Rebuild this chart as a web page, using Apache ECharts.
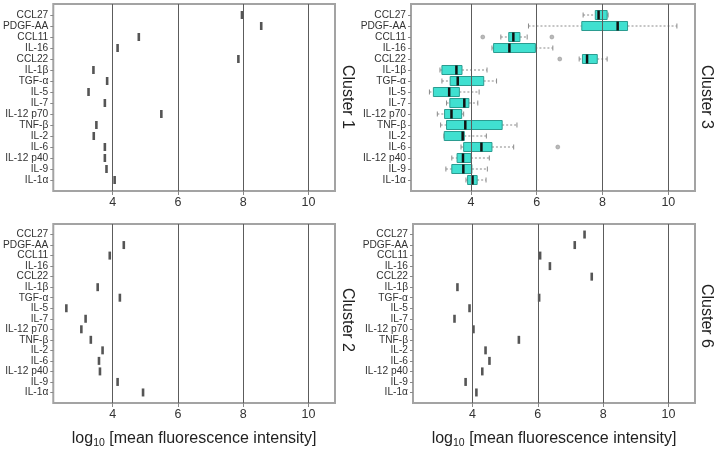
<!DOCTYPE html>
<html><head><meta charset="utf-8">
<script src="https://cdn.jsdelivr.net/npm/echarts@6/dist/echarts.min.js"></script>
<style>html,body{margin:0;padding:0;background:#fff}#c{width:715px;height:450px}</style>
</head><body><div id="c"></div>
<script>
const categories = ['CCL27','PDGF-AA','CCL11','IL-16','CCL22','IL-1β','TGF-α','IL-5','IL-7','IL-12 p70','TNF-β','IL-2','IL-6','IL-12 p40','IL-9','IL-1α'];
const xTicks = [4, 6, 8, 10];
const cluster1 = [7.96,8.55,4.80,4.15,7.85,3.41,3.83,3.26,3.76,5.49,3.50,3.42,3.76,3.76,3.81,4.06];
const cluster2 = [null,4.34,3.91,null,null,3.54,4.22,2.58,3.17,3.04,3.33,3.69,3.58,3.61,4.15,4.93];
const cluster6 = [7.43,7.13,6.07,6.37,7.65,3.54,6.04,3.91,3.45,4.03,5.42,4.40,4.52,4.30,3.79,4.12];
const c3Min = [7.41,5.75,4.91,4.64,7.29,3.06,3.12,2.74,3.26,2.98,3.08,3.18,3.70,3.42,3.24,3.85];
const c3Q1  = [7.78,7.37,5.15,4.69,7.39,3.12,3.37,2.86,3.36,3.20,3.26,3.19,3.78,3.58,3.42,3.90];
const c3Med = [7.88,8.46,5.29,5.17,7.53,3.56,3.60,3.34,3.80,3.41,3.83,3.75,4.32,3.76,3.77,4.05];
const c3Q3  = [8.14,8.76,5.49,5.96,7.84,3.73,4.39,3.65,3.94,3.72,4.95,3.80,4.64,4.00,4.03,4.19];
const c3Max = [8.17,10.26,5.71,6.49,8.14,4.49,4.78,4.25,4.21,3.78,5.40,4.47,5.30,4.56,4.50,4.46];
const c3Outliers = [['CCL11',4.36],['CCL11',6.46],['CCL22',6.70],['IL-6',6.64]];
const clusterNames = ['Cluster 1', 'Cluster 3', 'Cluster 2', 'Cluster 6'];
const xAxisTitle = ['log', '10', ' [mean fluorescence intensity]'];

const FONT = '"Liberation Sans", Arial, Helvetica, sans-serif';
const yData = [''].concat(categories, ['']);
const grids = [
  {left: 51, top: 4, width: 284, height: 187},
  {left: 411, top: 4, width: 284, height: 187},
  {left: 51, top: 224, width: 284, height: 188},
  {left: 413, top: 224, width: 282, height: 188}
];
const labelPos = [[347, 97], [706, 97], [347, 320], [706, 316]];

const xAxes = grids.map((g, i) => ({
  type: 'value', gridIndex: i, min: 2.18, max: 10.81,
  axisLine: {show: false}, splitLine: {show: false},
  axisTick: {show: true, customValues: xTicks, length: 4, lineStyle: {color: '#888'}},
  axisLabel: {customValues: xTicks, fontSize: 12.5, color: '#333', fontFamily: FONT, margin: 5},
  name: i >= 2 ? ('{a|' + xAxisTitle[0] + '}{s|' + xAxisTitle[1] + '}{a|' + xAxisTitle[2] + '}') : '',
  nameLocation: 'middle', nameGap: 26,
  nameTextStyle: {
    fontFamily: FONT,
    rich: {
      a: {fontSize: 16, color: '#222', fontFamily: FONT, lineHeight: 20},
      s: {fontSize: 10.5, color: '#222', fontFamily: FONT, verticalAlign: 'bottom', lineHeight: 11}
    }
  }
}));
const yAxes = grids.map((g, i) => ({
  type: 'category', gridIndex: i, data: yData, inverse: true, boundaryGap: false,
  axisLine: {show: false}, splitLine: {show: false},
  axisTick: {show: true, length: 3, interval: (idx, v) => v !== '', lineStyle: {color: '#888'}},
  axisLabel: {interval: 0, fontSize: 10.2, color: '#333', fontFamily: FONT, margin: 5}
}));

function pairs(vals) {
  return vals.map((v, k) => [v, categories[k]]).filter(d => d[0] != null);
}
function lineSeries(i) {
  return {
    type: 'scatter', xAxisIndex: i, yAxisIndex: i, data: [], z: 1, silent: true,
    markLine: {
      silent: true, symbol: ['none', 'none'], label: {show: false},
      lineStyle: {color: '#5c5c5c', width: 1, type: 'solid'},
      data: xTicks.map(t => ({xAxis: t}))
    }
  };
}
function markSeries(i, vals) {
  return {
    type: 'scatter', xAxisIndex: i, yAxisIndex: i, z: 3, silent: true,
    symbol: 'rect', symbolSize: [2.6, 8],
    itemStyle: {color: '#2a2a2a'},
    data: pairs(vals)
  };
}
const boxData = categories.map((c, k) => [c3Min[k], c3Q1[k], c3Med[k], c3Q3[k], c3Max[k], c]);
function renderBox(params, api) {
  const y = api.value(5);
  const pMin = api.coord([api.value(0), y]);
  const pQ1 = api.coord([api.value(1), y]);
  const pMed = api.coord([api.value(2), y]);
  const pQ3 = api.coord([api.value(3), y]);
  const pMax = api.coord([api.value(4), y]);
  const cy = pMed[1];
  const h = 9;
  const whisk = {stroke: '#8a8a8a', lineWidth: 1, lineDash: [2, 2], fill: null};
  const cap = {stroke: '#8a8a8a', lineWidth: 1, fill: null};
  return {
    type: 'group', children: [
      {type: 'line', shape: {x1: pMin[0], y1: cy, x2: pQ1[0], y2: cy}, style: whisk},
      {type: 'line', shape: {x1: pQ3[0], y1: cy, x2: pMax[0], y2: cy}, style: whisk},
      {type: 'line', shape: {x1: pMin[0], y1: cy - 2.5, x2: pMin[0], y2: cy + 2.5}, style: cap},
      {type: 'line', shape: {x1: pMax[0], y1: cy - 2.5, x2: pMax[0], y2: cy + 2.5}, style: cap},
      {type: 'rect', shape: {x: pQ1[0], y: cy - h / 2, width: pQ3[0] - pQ1[0], height: h},
        style: {fill: '#40e0d0', stroke: '#2b9c90', lineWidth: 1}},
      {type: 'line', shape: {x1: pMed[0], y1: cy - h / 2, x2: pMed[0], y2: cy + h / 2},
        style: {stroke: '#111', lineWidth: 2.5}}
    ]
  };
}

const option = {
  backgroundColor: '#fff',
  animation: false,
  grid: grids.map(g => Object.assign({show: true, borderColor: '#a3a3a3', borderWidth: 2, backgroundColor: 'transparent', containLabel: false}, g)),
  xAxis: xAxes,
  yAxis: yAxes,
  series: [
    lineSeries(0), lineSeries(1), lineSeries(2), lineSeries(3),
    markSeries(0, cluster1),
    markSeries(2, cluster2),
    markSeries(3, cluster6),
    {
      type: 'custom', xAxisIndex: 1, yAxisIndex: 1, z: 3, silent: true,
      renderItem: renderBox,
      encode: {x: [0, 1, 2, 3, 4], y: 5},
      data: boxData
    },
    {
      type: 'scatter', xAxisIndex: 1, yAxisIndex: 1, z: 4, silent: true,
      symbol: 'circle', symbolSize: 4,
      itemStyle: {color: '#a8a8a8', borderColor: '#8a8a8a', borderWidth: 0.6},
      data: c3Outliers.map(o => [o[1], o[0]])
    }
  ],
  graphic: clusterNames.map((n, i) => ({
    type: 'text', x: labelPos[i][0], y: labelPos[i][1], rotation: -Math.PI / 2,
    style: {text: n, fontSize: 16, fontFamily: FONT, fill: '#222', align: 'center', verticalAlign: 'middle'}
  }))
};
const chart = echarts.init(document.getElementById('c'), null, {renderer: 'canvas'});
chart.setOption(option);
</script>
</body></html>
